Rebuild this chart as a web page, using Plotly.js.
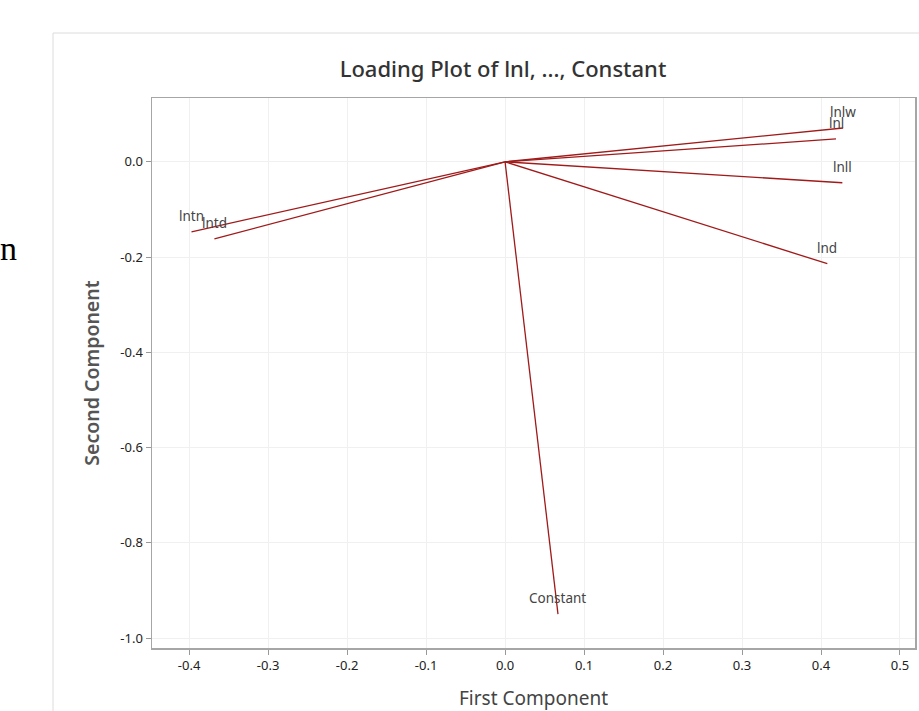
<!DOCTYPE html>
<html>
<head>
<meta charset="utf-8">
<script src="https://cdn.plot.ly/plotly-3.0.1.min.js"></script>
<style>html,body{margin:0;padding:0;background:#fff;}#chart{width:919px;height:711px;}</style>
</head>
<body>
<div id="chart"></div>
<script>
var variables = ["lnlw", "lnl", "lnll", "lnd", "lntn", "lntd", "Constant"];
var firstComponent = [0.428, 0.419, 0.427, 0.408, -0.397, -0.368, 0.067];
var secondComponent = [0.071, 0.048, -0.044, -0.214, -0.147, -0.162, -0.950];
var xTicks = [-0.4, -0.3, -0.2, -0.1, 0.0, 0.1, 0.2, 0.3, 0.4, 0.5];
var yTicks = [0.0, -0.2, -0.4, -0.6, -0.8, -1.0];

var lineColor = "#a01a1a";
var traces = [];
for (var i = 0; i < variables.length; i++) {
  traces.push({
    x: [0, firstComponent[i]],
    y: [0, secondComponent[i]],
    mode: "lines",
    type: "scatter",
    line: {color: lineColor, width: 1.3},
    hoverinfo: "skip",
    showlegend: false
  });
}

var px2paperX = function (px) { return (px - 152) / 763; };
var px2paperY = function (py) { return (648 - py) / 550; };

var annotations = variables.map(function (name, i) {
  return {
    text: name, x: firstComponent[i], y: secondComponent[i], xref: "x", yref: "y",
    xanchor: "center", yanchor: "middle", yshift: 16, showarrow: false,
    font: {family: "Noto Sans, Open Sans, sans-serif", size: 13.5, color: "#444"}
  };
});
annotations.push({text: "n", xref: "paper", yref: "paper", x: px2paperX(-2), y: px2paperY(248), xanchor: "left", yanchor: "middle", showarrow: false,
  font: {family: "Liberation Serif, serif", size: 34, color: "#000"}});

var layout = {
  width: 919,
  height: 711,
  margin: {l: 152, r: 4, t: 98, b: 63},
  paper_bgcolor: "#fff",
  plot_bgcolor: "#fff",
  font: {family: "Noto Sans, Open Sans, sans-serif", color: "#333"},
  title: {
    text: "Loading Plot of lnl, ..., Constant",
    font: {family: "Noto Sans, Open Sans, sans-serif", size: 22, color: "#333", weight: 500},
    xref: "container", x: 503 / 919, xanchor: "center",
    yref: "container", y: 1 - 69 / 711, yanchor: "middle"
  },
  xaxis: {
    range: [-0.447, 0.519],
    tickvals: xTicks,
    ticktext: xTicks.map(function (v) { return v.toFixed(1); }),
    ticks: "outside", ticklen: 5, tickcolor: "#999",
    tickfont: {size: 13, color: "#222"},
    showline: true, linecolor: "#a6a6a6", linewidth: 1.5, mirror: true,
    showgrid: true, gridcolor: "#f0f0f0",
    zeroline: false,
    title: {text: "First Component", font: {size: 19, color: "#444"}, standoff: 27}
  },
  yaxis: {
    range: [-1.021, 0.134],
    tickvals: yTicks,
    ticktext: yTicks.map(function (v) { return v.toFixed(1); }),
    ticks: "outside", ticklen: 5, tickcolor: "#999",
    tickfont: {size: 13, color: "#222"},
    showline: true, linecolor: "#a6a6a6", linewidth: 1.5, mirror: true,
    showgrid: true, gridcolor: "#f0f0f0",
    zeroline: false,
    title: {text: "Second Component", font: {size: 19.5, color: "#555", weight: 600}, standoff: 15}
  },
  shapes: [
    {type: "line", xref: "paper", yref: "paper", x0: px2paperX(53), x1: px2paperX(53), y0: px2paperY(33), y1: px2paperY(720), line: {color: "#dcdcdc", width: 1}},
    {type: "line", xref: "paper", yref: "paper", x0: px2paperX(53), x1: px2paperX(930), y0: px2paperY(33), y1: px2paperY(33), line: {color: "#dcdcdc", width: 1}}
  ],
  annotations: annotations
};

Plotly.newPlot("chart", traces, layout, {displayModeBar: false, staticPlot: true});
</script>
</body>
</html>
